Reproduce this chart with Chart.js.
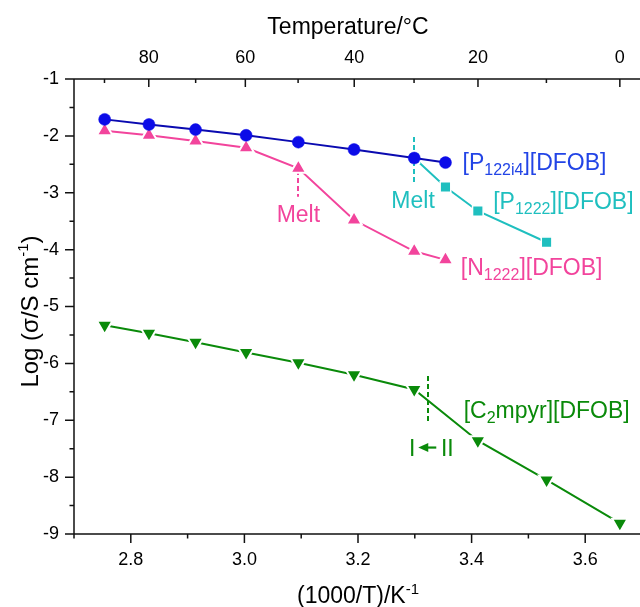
<!DOCTYPE html>
<html><head><meta charset="utf-8">
<script src="https://cdn.jsdelivr.net/npm/chart.js@4.4.1/dist/chart.umd.min.js"></script>
<style>
html,body{margin:0;padding:0;background:#fff;overflow:hidden;width:640px;height:607px}
#wrap{position:relative;width:642px;height:607px}
</style></head>
<body><div id="wrap"><canvas id="c"></canvas></div>
<script>
// ---- axis ranges and ticks ----
const xMin = 2.7, xMax = 3.7, yMin = -9, yMax = -1;
const xMajorTicks = [2.8, 3.0, 3.2, 3.4, 3.6];
const xMinorTicks = [2.7, 2.9, 3.1, 3.3, 3.5, 3.7];
const yMajorTicks = [-1, -2, -3, -4, -5, -6, -7, -8, -9];
const yMinorTicks = [-1.5, -2.5, -3.5, -4.5, -5.5, -6.5, -7.5, -8.5];
const tempMajorTicks = [80, 60, 40, 20, 0];
const tempMinorTicks = [90, 70, 50, 30, 10];

// ---- series (x = 1000/T in K^-1, y = log sigma) ----
const p122i4X = [2.754, 2.832, 2.914, 3.003, 3.095, 3.193, 3.299, 3.354];
const p122i4Y = [-1.71, -1.80, -1.89, -1.99, -2.11, -2.24, -2.39, -2.47];
const p1222X  = [3.299, 3.354, 3.411, 3.532];
const p1222Y  = [-2.39, -2.90, -3.32, -3.87];
const n1222X  = [2.754, 2.832, 2.914, 3.003, 3.095, 3.193, 3.299, 3.354];
const n1222Y  = [-1.91, -1.99, -2.09, -2.21, -2.57, -3.48, -4.03, -4.18];
const c2mpyrX = [2.754, 2.832, 2.914, 3.003, 3.095, 3.193, 3.299, 3.411, 3.532, 3.661];
const c2mpyrY = [-5.33, -5.47, -5.63, -5.81, -5.99, -6.20, -6.46, -7.36, -8.05, -8.81];

const FONT = '"Liberation Sans", Arial, sans-serif';
const C_BLUE = '#0c0ce8', C_BLUE_LINE = '#0a0ab0', C_BLUE_TXT = '#2244e6';
const C_CYAN = '#1fbfbf', C_PINK = '#f2449c', C_GREEN = '#0a8a0a';

const tempToInv = t => 1000 / (t + 273.15);
const pts = (xs, ys) => xs.map((x, i) => ({x: x, y: ys[i]}));

function richText(ctx, parts, x, y, align, color) {
  let w = 0;
  parts.forEach(p => { ctx.font = p.size + 'px ' + FONT; p.w = ctx.measureText(p.t).width; w += p.w; });
  let cx = align === 'center' ? x - w / 2 : x;
  ctx.fillStyle = color; ctx.textBaseline = 'alphabetic'; ctx.textAlign = 'left';
  parts.forEach(p => { ctx.font = p.size + 'px ' + FONT; ctx.fillText(p.t, cx, y + (p.dy || 0)); cx += p.w; });
}
const lab = (main, sub, rest) => [{t: main, size: 23}, {t: sub, size: 16, dy: 5}, {t: rest, size: 23}];

const decor = {
  id: 'decor',
  beforeDatasetsDraw(chart) {
    const ctx = chart.ctx, xs = chart.scales.x, ys = chart.scales.y;
    const dashes = [
      {x: 3.095, y1: -2.60, y2: -3.07, c: C_PINK},
      {x: 3.299, y1: -2.02, y2: -2.83, c: C_CYAN},
      {x: 3.324, y1: -6.22, y2: -7.03, c: C_GREEN}
    ];
    ctx.save(); ctx.lineWidth = 2; ctx.setLineDash([5, 3]);
    dashes.forEach(d => {
      ctx.strokeStyle = d.c; ctx.beginPath();
      const px = Math.round(xs.getPixelForValue(d.x));
      ctx.moveTo(px, ys.getPixelForValue(d.y1)); ctx.lineTo(px, ys.getPixelForValue(d.y2)); ctx.stroke();
    });
    ctx.restore();
  },
  afterDraw(chart) {
    const ctx = chart.ctx, xs = chart.scales.x, ys = chart.scales.y, a = chart.chartArea;
    ctx.save();
    // axis lines
    ctx.strokeStyle = '#111'; ctx.lineWidth = 1.5; ctx.setLineDash([]);
    ctx.beginPath();
    ctx.moveTo(a.left, a.top); ctx.lineTo(a.right, a.top);
    ctx.moveTo(a.left, a.bottom); ctx.lineTo(a.right, a.bottom);
    ctx.moveTo(a.left, a.top); ctx.lineTo(a.left, a.bottom);
    // bottom ticks (outward)
    xMajorTicks.forEach(v => { const p = xs.getPixelForValue(v); ctx.moveTo(p, a.bottom); ctx.lineTo(p, a.bottom + 9); });
    xMinorTicks.forEach(v => { const p = xs.getPixelForValue(v); ctx.moveTo(p, a.bottom); ctx.lineTo(p, a.bottom + 4.5); });
    // top ticks (inward)
    tempMajorTicks.forEach(t => { const p = xs.getPixelForValue(tempToInv(t)); ctx.moveTo(p, a.top); ctx.lineTo(p, a.top + 8); });
    tempMinorTicks.forEach(t => { const p = xs.getPixelForValue(tempToInv(t)); ctx.moveTo(p, a.top); ctx.lineTo(p, a.top + 4); });
    // left ticks (outward)
    yMajorTicks.forEach(v => { const p = ys.getPixelForValue(v); ctx.moveTo(a.left, p); ctx.lineTo(a.left - 9, p); });
    yMinorTicks.forEach(v => { const p = ys.getPixelForValue(v); ctx.moveTo(a.left, p); ctx.lineTo(a.left - 4.5, p); });
    ctx.stroke();

    // axis titles
    ctx.font = '23px ' + FONT; ctx.fillStyle = '#000'; ctx.textAlign = 'center'; ctx.textBaseline = 'alphabetic';
    ctx.fillText('Temperature/°C', 348, 34);
    richText(ctx, [{t: '(1000/T)/K', size: 23}, {t: '-1', size: 15, dy: -9}], (a.left + a.right) / 2, 603, 'center', '#000');
    ctx.save();
    ctx.translate(38, (a.top + a.bottom) / 2 + 5); ctx.rotate(-Math.PI / 2);
    richText(ctx, [{t: 'Log (σ/S cm', size: 24}, {t: '-1', size: 15, dy: -10}, {t: ')', size: 24}], 0, 0, 'center', '#000');
    ctx.restore();

    // series labels and notes
    const X = v => xs.getPixelForValue(v), Y = v => ys.getPixelForValue(v) + 8.2;
    richText(ctx, lab('[P', '122i4', '][DFOB]'), X(3.384), Y(-2.46), 'left', C_BLUE_TXT);
    richText(ctx, lab('[P', '1222', '][DFOB]'), X(3.438), Y(-3.145), 'left', C_CYAN);
    richText(ctx, lab('[N', '1222', '][DFOB]'), X(3.381), Y(-4.31), 'left', C_PINK);
    richText(ctx, lab('[C', '2', 'mpyr][DFOB]'), X(3.386), Y(-6.82), 'left', C_GREEN);
    richText(ctx, [{t: 'Melt', size: 23}], X(3.095), Y(-3.37), 'center', C_PINK);
    richText(ctx, [{t: 'Melt', size: 23}], X(3.297), Y(-3.13), 'center', C_CYAN);
    // phase-transition note: "I ← II"
    const nx = X(3.329), ny = Y(-7.48);
    richText(ctx, [{t: 'I', size: 23}], nx - 19, ny, 'center', C_GREEN);
    richText(ctx, [{t: 'II', size: 23}], nx + 16, ny, 'center', C_GREEN);
    ctx.fillStyle = C_GREEN; ctx.strokeStyle = C_GREEN; ctx.lineWidth = 2.2;
    const ay = ny - 8.2;
    ctx.beginPath(); ctx.moveTo(nx - 4, ay); ctx.lineTo(nx + 5, ay); ctx.stroke();
    ctx.beginPath(); ctx.moveTo(nx - 13, ay); ctx.lineTo(nx - 3, ay - 4.5); ctx.lineTo(nx - 3, ay + 4.5); ctx.closePath(); ctx.fill();
    ctx.restore();
  }
};

const tickFont = {family: FONT, size: 18};
new Chart(document.getElementById('c'), {
  type: 'line',
  data: {
    datasets: [
      {label: '[P122i4][DFOB]', data: pts(p122i4X, p122i4Y), borderColor: C_BLUE_LINE, backgroundColor: C_BLUE,
       pointStyle: 'circle', pointRadius: 6, pointBorderColor: C_BLUE, pointBorderWidth: 0.5, borderWidth: 2},
      {label: '[P1222][DFOB]', data: pts(p1222X, p1222Y), borderColor: C_CYAN, backgroundColor: C_CYAN,
       pointStyle: 'rect', pointRadius: 7.5, pointBorderColor: '#fff', pointBorderWidth: 1.5, borderWidth: 2},
      {label: '[N1222][DFOB]', data: pts(n1222X, n1222Y), borderColor: C_PINK, backgroundColor: C_PINK,
       pointStyle: 'triangle', pointRadius: 9, pointBorderColor: '#fff', pointBorderWidth: 2, borderWidth: 2},
      {label: '[C2mpyr][DFOB]', data: pts(c2mpyrX, c2mpyrY), borderColor: C_GREEN, backgroundColor: C_GREEN,
       pointStyle: 'triangle', pointRotation: 180, pointRadius: 9, pointBorderColor: '#fff', pointBorderWidth: 2, borderWidth: 2}
    ]
  },
  options: {
    responsive: true, maintainAspectRatio: false, animation: false, devicePixelRatio: 1,
    layout: {padding: 0, autoPadding: false},
    elements: {line: {tension: 0, fill: false}},
    plugins: {legend: {display: false}, tooltip: {enabled: false}},
    scales: {
      x: {type: 'linear', position: 'bottom', min: xMin, max: xMax,
          afterBuildTicks: s => { s.ticks = xMajorTicks.map(v => ({value: v})); },
          afterFit: s => { s.height = 73; },
          grid: {display: false, drawTicks: false}, border: {display: false},
          ticks: {font: tickFont, color: '#000', padding: 15, maxRotation: 0, autoSkip: false,
                  callback: v => Number(v).toFixed(1)}},
      x2: {type: 'linear', position: 'top', min: xMin, max: xMax,
          afterBuildTicks: s => { s.ticks = tempMajorTicks.map(t => ({value: tempToInv(t)})); },
          afterFit: s => { s.height = 79; },
          grid: {display: false, drawTicks: false}, border: {display: false},
          ticks: {font: tickFont, color: '#000', padding: 10, maxRotation: 0, autoSkip: false,
                  callback: v => String(Math.round(1000 / v - 273.15))}},
      y: {type: 'linear', position: 'left', min: yMin, max: yMax,
          afterBuildTicks: s => { s.ticks = yMajorTicks.map(v => ({value: v})); },
          afterFit: s => { s.width = 74; },
          grid: {display: false, drawTicks: false}, border: {display: false},
          ticks: {font: tickFont, color: '#000', padding: 15, autoSkip: false,
                  callback: v => String(v)}}
    }
  },
  plugins: [decor]
});
</script>
</body></html>
